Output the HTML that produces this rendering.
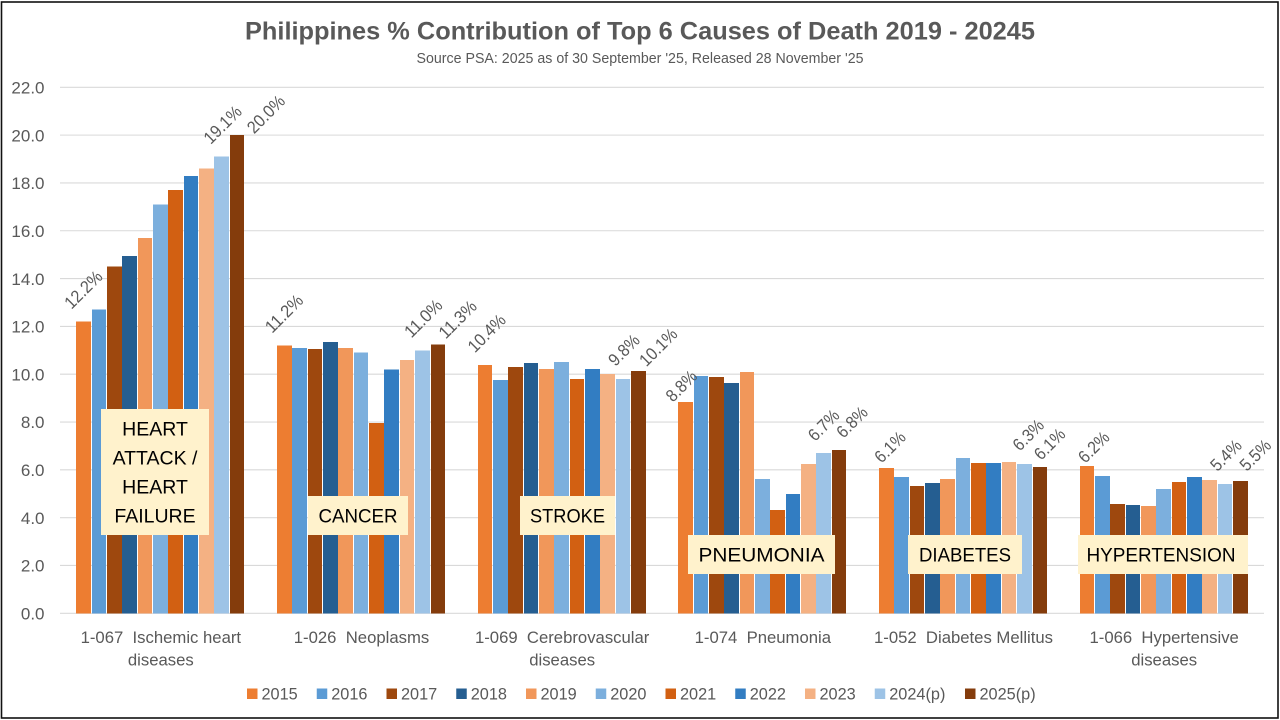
<!DOCTYPE html>
<html lang="en">
<head>
<meta charset="utf-8">
<title>Philippines % Contribution of Top 6 Causes of Death</title>
<style>
  html, body { margin: 0; padding: 0; background: #fff; }
  body { width: 1280px; height: 720px; overflow: hidden; }
  svg { display: block; font-family: "Liberation Sans", sans-serif; }
  text { white-space: pre; }
</style>
</head>
<body>
<svg id="chart" width="1280" height="720" viewBox="0 0 1280 720" xmlns="http://www.w3.org/2000/svg">
  <rect x="0" y="0" width="1280" height="720" fill="#ffffff"/>
  <rect x="1.5" y="2" width="1276.5" height="716" fill="none" stroke="#111111" stroke-width="1.6"/>
  <text x="640" y="39.5" text-anchor="middle" font-size="25" font-weight="bold" fill="#595959" textLength="790" lengthAdjust="spacingAndGlyphs">Philippines % Contribution of Top 6 Causes of Death 2019 - 20245</text>
  <text x="640" y="63" text-anchor="middle" font-size="14.5" fill="#595959" textLength="447" lengthAdjust="spacingAndGlyphs">Source PSA: 2025 as of 30 September '25, Released 28 November '25</text>
  <g id="grid"></g>
  <g id="yaxis"></g>
  <g id="bars"></g>
  <g id="xaxis"></g>
  <g id="labels"></g>

  <g>
    <rect x="101" y="409" width="108" height="126" fill="#FFF2CC"/>
    <text x="155" y="435.7" text-anchor="middle" font-size="19.5" fill="#000">HEART</text>
    <text x="155" y="464.7" text-anchor="middle" font-size="19.5" fill="#000">ATTACK /</text>
    <text x="155" y="493.7" text-anchor="middle" font-size="19.5" fill="#000">HEART</text>
    <text x="155" y="522.7" text-anchor="middle" font-size="19.5" fill="#000">FAILURE</text>
  </g>
  <g>
    <rect x="308" y="496" width="100" height="39" fill="#FFF2CC"/>
    <text x="358" y="522.7" text-anchor="middle" font-size="19.5" fill="#000" textLength="79" lengthAdjust="spacingAndGlyphs">CANCER</text>
  </g>
  <g>
    <rect x="520" y="496" width="95" height="39" fill="#FFF2CC"/>
    <text x="567.5" y="522.7" text-anchor="middle" font-size="19.5" fill="#000" textLength="75" lengthAdjust="spacingAndGlyphs">STROKE</text>
  </g>
  <g>
    <rect x="688" y="535" width="147" height="39" fill="#FFF2CC"/>
    <text x="761.5" y="561.7" text-anchor="middle" font-size="19.5" fill="#000" textLength="126" lengthAdjust="spacingAndGlyphs">PNEUMONIA</text>
  </g>
  <g>
    <rect x="908" y="535" width="114" height="39" fill="#FFF2CC"/>
    <text x="965" y="561.7" text-anchor="middle" font-size="19.5" fill="#000" textLength="92" lengthAdjust="spacingAndGlyphs">DIABETES</text>
  </g>
  <g>
    <rect x="1078" y="535" width="170" height="39" fill="#FFF2CC"/>
    <text x="1161" y="561.7" text-anchor="middle" font-size="19.5" fill="#000" textLength="149" lengthAdjust="spacingAndGlyphs">HYPERTENSION</text>
  </g>
  <g id="legend"></g>
</svg>
<script>
const years = ['2015','2016','2017','2018','2019','2020','2021','2022','2023','2024(p)','2025(p)'];
const yearColors = ['#ED7D31','#5B9BD5','#9E480E','#255E91','#F1975A','#7CAFDD','#D26012','#327DC2','#F4B183','#9DC3E6','#843C0C'];
const categoryLines = [
  ['1-067  Ischemic heart','diseases'],
  ['1-026  Neoplasms'],
  ['1-069  Cerebrovascular','diseases'],
  ['1-074  Pneumonia'],
  ['1-052  Diabetes Mellitus'],
  ['1-066  Hypertensive','diseases']
];
const ischemicValues = [12.2,12.7,14.5,14.95,15.7,17.1,17.7,18.3,18.6,19.1,20.0];
const neoplasmValues = [11.2,11.1,11.05,11.35,11.1,10.9,7.95,10.2,10.6,11.0,11.25];
const strokeValues = [10.38,9.76,10.3,10.47,10.22,10.51,9.8,10.22,10.0,9.8,10.13];
const pneumoniaValues = [8.84,9.93,9.89,9.63,10.09,5.62,4.32,4.99,6.25,6.7,6.83];
const diabetesValues = [6.08,5.7,5.32,5.45,5.62,6.5,6.29,6.29,6.33,6.25,6.12];
const hypertensionValues = [6.16,5.74,4.57,4.53,4.49,5.2,5.49,5.7,5.57,5.4,5.53];
const seriesByCategory = [ischemicValues,neoplasmValues,strokeValues,pneumoniaValues,diabetesValues,hypertensionValues];
const yTicks = [0,2,4,6,8,10,12,14,16,18,20,22];

const NS = 'http://www.w3.org/2000/svg';
const plotLeft = 60, plotRight = 1264, plotBottom = 613.3, plotTop = 87.3, yMax = 22;
const groupWidth = (plotRight - plotLeft) / categoryLines.length;
const barPitch = 15.36, barSpan = 15;

function yScale(v) { return plotBottom - (v / yMax) * (plotBottom - plotTop); }
function groupCenter(i) { return plotLeft + groupWidth * (i + 0.5); }
function barLeft(i, j) { return groupCenter(i) - barPitch * years.length / 2 + j * barPitch; }
function make(tag, attrs, parent, txt) {
  const el = document.createElementNS(NS, tag);
  for (const k in attrs) el.setAttribute(k, attrs[k]);
  if (txt !== undefined) el.textContent = txt;
  parent.appendChild(el);
  return el;
}

const gridG = document.getElementById('grid');
const yG = document.getElementById('yaxis');
yTicks.forEach(function (t) {
  const line = make('line', {x1: plotLeft, x2: plotRight, y1: yScale(t), y2: yScale(t), stroke: '#D9D9D9', 'stroke-width': 1.1}, gridG);
  
  
  const label = make('text', {x: 44.5, y: yScale(t) + 6.2, 'text-anchor': 'end', 'font-size': 17, fill: '#595959'}, yG, t.toFixed(1));
  
  
});

const barsG = document.getElementById('bars');
seriesByCategory.forEach(function (vals, i) {
  vals.forEach(function (v, j) {
    const raw = barLeft(i, j);
    const left = Math.ceil(raw - 0.1);
    const right = Math.round(raw + barSpan);
    const bar = make('rect', {x: left, y: yScale(v), width: right - left, height: plotBottom - yScale(v), fill: yearColors[j], 'shape-rendering': 'crispEdges'}, barsG);
    
    
  });
});

const xG = document.getElementById('xaxis');
categoryLines.forEach(function (lines, i) {
  lines.forEach(function (ln, k) {
    const label = make('text', {x: groupCenter(i) + 0.5, y: 643 + k * 22.6, 'text-anchor': 'middle', 'font-size': 16.7, fill: '#595959'}, xG, ln);
    
    
  });
});

function labelOffset(i, j) {
  const first = [[0,-32],[0,-32],[2,-32],[-4,-16],[4,-21],[7,-19]];
  const prior = [[1,-32],[1,-32],[1,-29],[0,-28],[4,-29],[1,-29]];
  const last = [[29,-21],[20,-25],[20,-24],[13,-28],[10,-23],[15,-26]];
  return j === 0 ? first[i] : (j === 9 ? prior[i] : last[i]);
}
const labelsG = document.getElementById('labels');
const labelledSeries = [0, 9, 10];
seriesByCategory.forEach(function (vals, i) {
  labelledSeries.forEach(function (j) {
    const off = labelOffset(i, j);
    const cx = barLeft(i, j) + barSpan / 2 + off[0];
    const cy = yScale(vals[j]) + off[1];
    const str = vals[j].toFixed(1) + '%';
    const label = make('text', {x: cx, y: cy + 6, 'text-anchor': 'middle', 'font-size': 17.5, fill: '#595959', textLength: str.length > 4 ? 45.5 : 36, lengthAdjust: 'spacingAndGlyphs', transform: 'rotate(-45 ' + cx + ' ' + cy + ')'}, labelsG, str);
    
    
  });
});

const legendG = document.getElementById('legend');
years.forEach(function (yr, j) {
  const x = j < 10 ? 247 + j * 69.75 : 965;
  const sw = make('rect', {x: x, y: 688.5, width: 10.5, height: 10.5, fill: yearColors[j]}, legendG);
  
  
  const label = make('text', {x: x + 14.5, y: 699.5, 'font-size': 16.3, fill: '#595959'}, legendG, yr);
  
  
});
</script>
</body>
</html>
